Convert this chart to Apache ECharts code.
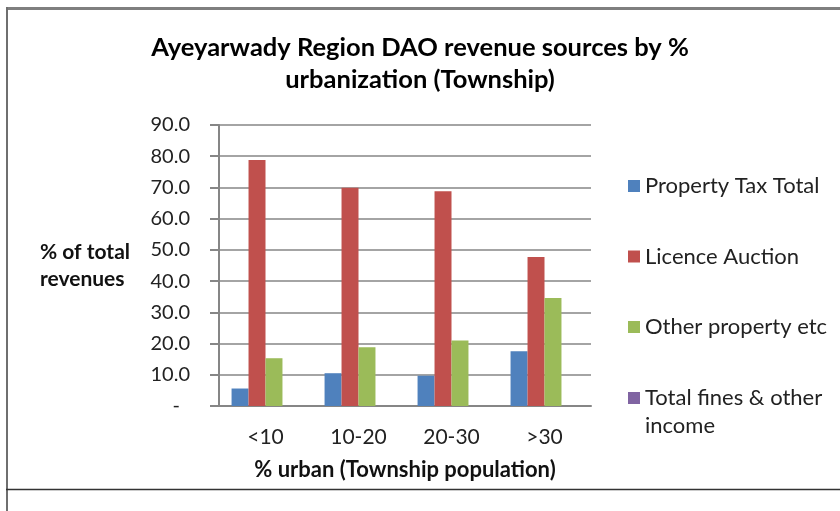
<!DOCTYPE html>
<html>
<head>
<meta charset="utf-8">
<script src="https://cdn.jsdelivr.net/npm/echarts@6/dist/echarts.min.js"></script>
<style>
    html, body { margin: 0; padding: 0; background: #fff; }
    #chart { width: 840px; height: 511px; }
</style>
</head>
<body>
<div id="chart"></div>
<script>
    // data
    var categories = ['<10', '10-20', '20-30', '>30'];
    var propertyTax = [5.6, 10.5, 9.7, 17.5];
    var licenceAuction = [78.8, 69.9, 68.8, 47.7];
    var otherProperty = [15.3, 18.8, 21.0, 34.6];
    var finesOther = [0, 0, 0, 0];
    var yTicks = { min: 0, max: 90, interval: 10 };

    var font = 'Lato';
    var myChart = echarts.init(document.getElementById('chart'));

    var legendText = {
        fontFamily: font,
        fontSize: 22,
        lineHeight: 28,
        color: '#222'
    };

    myChart.setOption({
        animation: false,
        color: ['#4F81BD', '#C0504D', '#9BBB59', '#8064A2'],
        title: {
            text: 'Ayeyarwady Region DAO revenue sources by %\nurbanization (Township)',
            left: 'center',
            top: 27,
            textStyle: {
                fontFamily: font,
                fontWeight: 'bold',
                fontSize: 25.5,
                lineHeight: 32,
                color: '#000'
            }
        },
        legend: [
            {
                orient: 'vertical',
                left: 628,
                top: 172,
                padding: 0,
                itemWidth: 12,
                itemHeight: 12,
                itemGap: 42.5,
                icon: 'rect',
                textStyle: legendText,
                data: ['Property Tax Total', 'Licence Auction', 'Other property etc']
            },
            {
                // blank first line keeps the marker level with the first text line
                orient: 'vertical',
                left: 628,
                top: 356,
                padding: 0,
                itemWidth: 12,
                itemHeight: 12,
                icon: 'rect',
                textStyle: legendText,
                formatter: function (name) {
                    return ' \nTotal fines & other\nincome';
                },
                data: ['Total fines & other income']
            }
        ],
        grid: {
            left: 219,
            right: 249,
            top: 125,
            bottom: 105
        },
        xAxis: {
            type: 'category',
            data: categories,
            axisLine: { lineStyle: { color: '#868686', width: 2 } },
            axisTick: { length: 7, lineStyle: { color: '#868686', width: 2 } },
            axisLabel: {
                fontFamily: font,
                fontSize: 21,
                color: '#222',
                margin: 21
            },
            name: '% urban (Township population)',
            nameLocation: 'middle',
            nameGap: 53,
            nameTextStyle: {
                fontFamily: font,
                fontWeight: 'bold',
                fontSize: 22,
                color: '#111'
            }
        },
        yAxis: {
            type: 'value',
            min: yTicks.min,
            max: yTicks.max,
            interval: yTicks.interval,
            axisLine: { show: true, lineStyle: { color: '#868686', width: 2 } },
            axisTick: { show: true, length: 9, lineStyle: { color: '#868686', width: 2 } },
            splitLine: { lineStyle: { color: '#868686', width: 1.5 } },
            axisLabel: {
                fontFamily: font,
                fontSize: 20,
                color: '#222',
                margin: 29,
                formatter: function (v) {
                    return v === 0 ? '{d|-}' : v.toFixed(1);
                },
                rich: {
                    d: { fontFamily: font, fontSize: 20, color: '#222', padding: [0, 10, 0, 0] }
                }
            }
        },
        graphic: [
            {
                type: 'text',
                left: 40,
                top: 239,
                style: {
                    text: '% of total\nrevenues',
                    font: 'bold 21px ' + font,
                    lineHeight: 27,
                    align: 'center',
                    fill: '#111'
                }
            },
            { type: 'line', shape: { x1: 6, y1: 8.5, x2: 840, y2: 8.5 }, style: { stroke: '#7f7f7f', lineWidth: 3 } },
            { type: 'line', shape: { x1: 7, y1: 7, x2: 7, y2: 511 }, style: { stroke: '#6f6f6f', lineWidth: 2 } },
            { type: 'line', shape: { x1: 6, y1: 489.5, x2: 840, y2: 489.5 }, style: { stroke: '#333', lineWidth: 1.5 } }
        ],
        series: [
            { name: 'Property Tax Total', type: 'bar', data: propertyTax, barGap: '0%', barCategoryGap: '27%' },
            { name: 'Licence Auction', type: 'bar', data: licenceAuction },
            { name: 'Other property etc', type: 'bar', data: otherProperty },
            { name: 'Total fines & other income', type: 'bar', data: finesOther }
        ]
    });
</script>
</body>
</html>
